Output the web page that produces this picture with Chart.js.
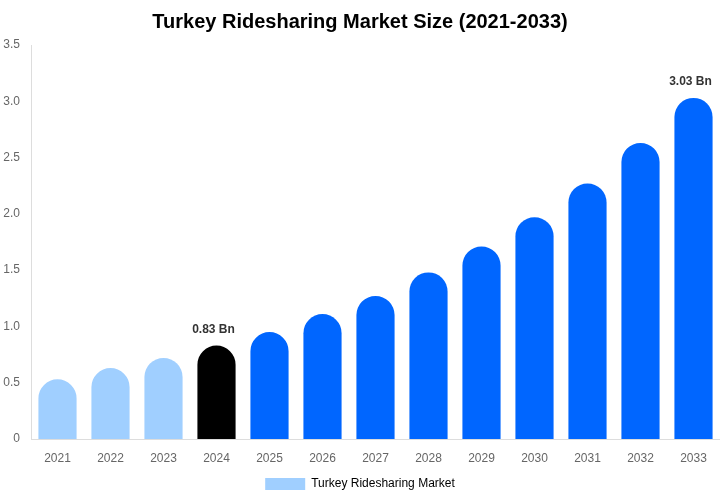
<!DOCTYPE html>
<html>
<head>
<meta charset="utf-8">
<script src="https://cdn.jsdelivr.net/npm/chart.js@4"></script>
<style>
  html, body { margin: 0; padding: 0; background: #fff; }
  #wrap { width: 720px; height: 500px; }
</style>
</head>
<body>
<div id="wrap"><canvas id="market-chart"></canvas></div>
<script>
var years = ['2021', '2022', '2023', '2024', '2025', '2026', '2027', '2028', '2029', '2030', '2031', '2032', '2033'];
var marketSize = [0.53, 0.63, 0.72, 0.83, 0.95, 1.11, 1.27, 1.48, 1.71, 1.97, 2.27, 2.63, 3.03];
var barColors = ['#a0cfff', '#a0cfff', '#a0cfff', '#000000', '#0066ff', '#0066ff', '#0066ff', '#0066ff', '#0066ff', '#0066ff', '#0066ff', '#0066ff', '#0066ff'];
var labelledYears = ['2024', '2033'];

// writes "x.xx Bn" above the chosen bars
var valueLabels = {
    id: 'valueLabels',
    afterDatasetsDraw: function(chart) {
        var ctx = chart.ctx;
        var meta = chart.getDatasetMeta(0);
        ctx.save();
        ctx.font = 'bold 12px Arial, "Liberation Sans", sans-serif';
        ctx.fillStyle = '#333';
        ctx.textAlign = 'center';
        ctx.textBaseline = 'bottom';
        meta.data.forEach(function(bar, i) {
            if (labelledYears.indexOf(years[i]) !== -1) {
                ctx.fillText(marketSize[i].toFixed(2) + ' Bn', bar.x - 3, bar.y - 10);
            }
        });
        ctx.restore();
    }
};

new Chart(document.getElementById('market-chart'), {
    type: 'bar',
    data: {
        labels: years,
        datasets: [{
            label: 'Turkey Ridesharing Market',
            data: marketSize,
            backgroundColor: barColors,
            borderRadius: 100,
            borderSkipped: 'start',
            barPercentage: 0.72,
            categoryPercentage: 1
        }]
    },
    options: {
        responsive: true,
        maintainAspectRatio: false,
        animation: false,
        layout: { padding: 0 },
        scales: {
            x: {
                grid: { display: false, drawTicks: false },
                border: { color: '#ddd' },
                afterFit: function(scale) { scale.height = 29; },
                ticks: { color: '#666', font: { size: 12, family: 'Arial, "Liberation Sans", sans-serif' }, padding: 12 }
            },
            y: {
                min: 0,
                max: 3.5,
                grid: { display: false, drawTicks: false },
                border: { color: '#ddd' },
                afterFit: function(scale) { scale.width = 31; },
                ticks: {
                    stepSize: 0.5,
                    color: '#666',
                    padding: 11,
                    font: { size: 12, family: 'Arial, "Liberation Sans", sans-serif' },
                    callback: function(value) {
                        return value === 0 ? '0' : value.toFixed(1);
                    }
                }
            }
        },
        plugins: {
            title: {
                display: true,
                text: 'Turkey Ridesharing Market Size (2021-2033)',
                color: '#000',
                font: { size: 20, weight: 'bold', family: 'Arial, "Liberation Sans", sans-serif' },
                padding: { top: 10, bottom: 11 }
            },
            legend: {
                display: true,
                position: 'bottom',
                labels: {
                    boxWidth: 40,
                    boxHeight: 12,
                    color: '#666',
                    font: { size: 12, family: 'Arial, "Liberation Sans", sans-serif' },
                    generateLabels: function(chart) {
                        return [{
                            text: 'Turkey Ridesharing Market',
                            fillStyle: '#a0cfff',
                            strokeStyle: '#a0cfff',
                            lineWidth: 0,
                            datasetIndex: 0
                        }];
                    }
                }
            },
            tooltip: { enabled: false }
        }
    },
    plugins: [valueLabels]
});
</script>
</body>
</html>
